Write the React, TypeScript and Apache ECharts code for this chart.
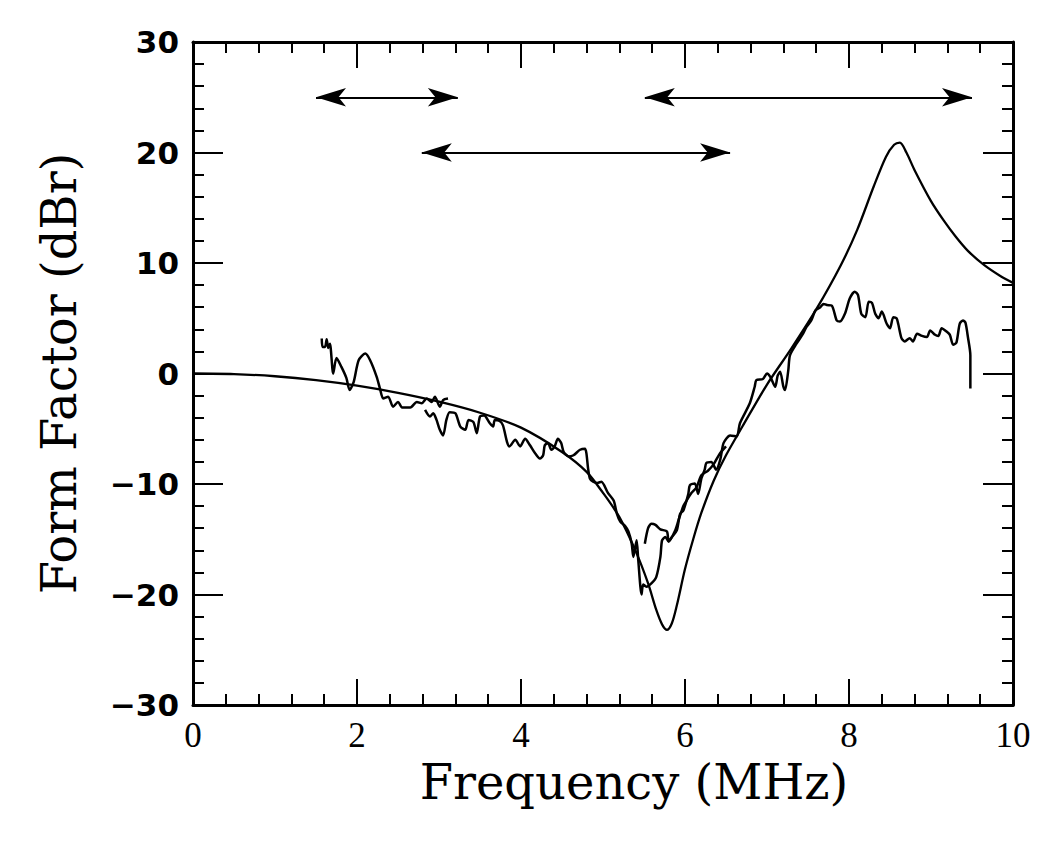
import React, { useEffect, useRef } from "react";
import * as echarts from "echarts";

// Frequency (MHz) / Form Factor (dBr)
const theoryCurve: [number, number][] = [
  [0, 0], [0.5, -0.05], [1, -0.25], [1.5, -0.6], [2, -1.1], [2.5, -1.75], [3, -2.55],
  [3.5, -3.55], [4, -4.9], [4.5, -7.1], [4.8, -8.9], [5.0, -10.8], [5.2, -13.0],
  [5.4, -16.1], [5.55, -19.0], [5.65, -21.4], [5.72, -22.7], [5.78, -23.2], [5.84, -22.6],
  [5.9, -21.0], [6.0, -17.7], [6.1, -15.0], [6.2, -12.6], [6.35, -9.7], [6.5, -7.4],
  [6.7, -4.8], [7.0, -1.0], [7.3, 2.3], [7.6, 5.8], [7.9, 9.8], [8.1, 13.0], [8.3, 16.9],
  [8.45, 19.6], [8.55, 20.7], [8.62, 20.9], [8.7, 20.0], [8.8, 18.4], [9.0, 15.6],
  [9.15, 13.9], [9.3, 12.4], [9.45, 11.1], [9.65, 9.8], [9.85, 8.8], [10, 8.2],
];

const segmentA: [number, number][] = [
  [1.57, 3.16], [1.58, 2.4], [1.61, 2.4], [1.63, 3.1], [1.65, 2.3], [1.67, 2.7], [1.71, 0.0],
  [1.75, 1.4], [1.81, 0.6], [1.87, -0.4], [1.91, -1.5], [1.96, -0.75], [2.02, 1.2],
  [2.1, 1.8], [2.16, 1.2], [2.24, -0.3], [2.28, -1.36], [2.32, -2.26], [2.38, -2.1],
  [2.44, -3.0], [2.5, -2.57], [2.55, -3.07], [2.65, -3.07], [2.73, -2.57], [2.79, -2.7],
  [2.85, -2.26], [2.91, -2.57], [2.95, -2.1], [3.01, -3.0], [3.05, -2.4], [3.11, -2.26],
];

const segmentB: [number, number][] = [
  [2.83, -3.3], [2.89, -3.9], [2.93, -3.6], [2.97, -4.2], [3.01, -5.1], [3.05, -5.6],
  [3.09, -4.2], [3.13, -3.5], [3.2, -3.6], [3.26, -4.8], [3.32, -5.1], [3.36, -4.2],
  [3.42, -4.4], [3.46, -5.4], [3.5, -3.9], [3.55, -3.8], [3.62, -4.5], [3.66, -4.8],
  [3.68, -4.2], [3.74, -4.3], [3.78, -4.7], [3.83, -6.2], [3.86, -6.6], [3.93, -6.0],
  [3.99, -6.6], [4.05, -5.9], [4.11, -6.5], [4.17, -7.2], [4.23, -7.7], [4.27, -7.4],
  [4.29, -6.5], [4.33, -6.3], [4.37, -6.9], [4.41, -6.6], [4.45, -5.9], [4.49, -6.3],
  [4.52, -7.1], [4.58, -7.5], [4.64, -7.4], [4.72, -6.9], [4.78, -6.8], [4.82, -8.7],
  [4.84, -9.5], [4.88, -9.8], [4.93, -9.9], [4.98, -9.8], [5.06, -10.8], [5.13, -11.5],
  [5.17, -12.7], [5.21, -13.4], [5.27, -13.8], [5.31, -14.3], [5.35, -15.4], [5.37, -16.6],
  [5.41, -15.1], [5.43, -16.9], [5.47, -20.0], [5.49, -19.1], [5.53, -19.3], [5.59, -19.0],
  [5.65, -18.4], [5.7, -16.6], [5.72, -15.1], [5.76, -14.8], [5.8, -15.2], [5.88, -14.2],
  [5.92, -13.3], [5.98, -12.0], [6.02, -11.5], [6.08, -10.8], [6.14, -10.3], [6.2, -9.2],
  [6.28, -8.8], [6.35, -8.2], [6.42, -7.3], [6.5, -6.6],
];

const segmentC: [number, number][] = [
  [5.51, -15.4], [5.55, -14.0], [5.59, -13.6], [5.64, -13.7], [5.7, -14.1], [5.78, -14.3],
  [5.8, -15.2], [5.84, -14.8], [5.9, -14.2], [5.94, -12.7], [5.98, -12.4], [6.04, -10.9],
  [6.06, -10.1], [6.12, -9.95], [6.16, -10.9], [6.2, -9.5], [6.24, -8.7], [6.26, -8.1],
  [6.32, -8.0], [6.38, -8.7], [6.43, -7.8], [6.47, -6.3], [6.55, -5.6], [6.63, -5.7],
  [6.67, -4.5], [6.79, -2.7], [6.85, -1.2], [6.87, -0.6], [6.95, -0.5], [7.0, 0.0],
  [7.04, -0.3], [7.1, -1.2], [7.13, -0.2], [7.16, 0.15], [7.2, -1.2], [7.22, -1.5],
  [7.26, 0.3], [7.28, 1.65], [7.36, 2.7], [7.44, 3.6], [7.48, 4.2], [7.54, 4.8],
  [7.59, 5.7], [7.65, 6.0], [7.69, 6.3], [7.73, 6.2], [7.79, 6.15], [7.85, 4.8],
  [7.89, 4.7], [7.95, 5.4], [8.01, 6.8], [8.07, 7.4], [8.11, 7.1], [8.15, 5.4],
  [8.2, 5.1], [8.24, 6.5], [8.28, 6.4], [8.32, 5.4], [8.36, 5.0], [8.4, 5.6],
  [8.46, 4.5], [8.5, 4.1], [8.54, 5.1], [8.58, 5.0], [8.6, 4.5], [8.64, 3.2],
  [8.68, 2.9], [8.74, 3.2], [8.78, 2.9], [8.83, 3.6], [8.89, 3.4], [8.95, 3.3],
  [8.99, 3.9], [9.05, 3.5], [9.09, 3.4], [9.13, 4.1], [9.19, 3.8], [9.23, 3.5],
  [9.27, 2.6], [9.31, 2.8], [9.35, 4.5], [9.39, 4.8], [9.42, 4.6], [9.45, 3.3],
  [9.48, 1.65], [9.48, -1.36],
];

// frequency ranges: [from, to, level]
const arrowRanges: [number, number, number][] = [
  [1.5, 3.23, 25],
  [5.51, 9.5, 25],
  [2.79, 6.55, 20],
];

const xTicks = { min: 0, max: 10, interval: 2 };
const yTicks = { min: -30, max: 30, interval: 10 };

export default function App() {
  const ref = useRef<HTMLDivElement>(null);
  useEffect(() => {
    if (!ref.current) return;
    const chart = echarts.init(ref.current, undefined, { renderer: "svg" });
    const axisLine = { show: true, onZero: false, lineStyle: { color: "#000", width: 3 } };
    const xBase = {
      type: "value" as const,
      ...xTicks,
      axisLine,
      axisTick: { show: true, inside: true, length: 26, lineStyle: { color: "#000", width: 2 } },
      minorTick: { show: true, splitNumber: 5, length: 11, lineStyle: { color: "#000", width: 2 } },
      splitLine: { show: false },
    };
    const yBase = {
      type: "value" as const,
      ...yTicks,
      axisLine,
      axisTick: { show: true, inside: true, length: 30, lineStyle: { color: "#000", width: 2 } },
      minorTick: { show: true, splitNumber: 5, length: 11, lineStyle: { color: "#000", width: 2 } },
      splitLine: { show: false },
    };
    const lineSeries = (data: [number, number][], extra: any = {}) => ({
      type: "line",
      data,
      showSymbol: false,
      symbol: "none",
      lineStyle: { color: "#000", width: 2.5 },
      silent: true,
      ...extra,
    });
    chart.setOption({
      animation: false,
      backgroundColor: "#fff",
      grid: { left: 193, right: 37, top: 42, bottom: 140 },
      xAxis: [
        {
          ...xBase,
          position: "bottom",
          name: "Frequency (MHz)",
          nameLocation: "middle",
          nameGap: 34,
          nameTextStyle: {
            fontFamily: "DejaVu Serif",
            fontSize: 48,
            color: "#000",
            verticalAlign: "top",
            padding: [0, 0, 0, 62],
          },
          axisLabel: {
            show: true,
            margin: 13,
            fontFamily: "Liberation Serif",
            fontSize: 35,
            color: "#000",
            formatter: (v: number) => String(v),
          },
        },
        { ...xBase, position: "top", axisLabel: { show: false } },
      ],
      yAxis: [
        {
          ...yBase,
          position: "left",
          name: "Form Factor (dBr)",
          nameLocation: "middle",
          nameGap: 110,
          nameTextStyle: { fontFamily: "DejaVu Serif", fontSize: 48, color: "#000" },
          axisLabel: {
            show: true,
            margin: 14,
            fontFamily: "DejaVu Sans",
            fontWeight: "bold",
            fontSize: 31,
            color: "#000",
            formatter: (v: number) => (v < 0 ? "\u2212" + Math.abs(v) : String(v)),
          },
        },
        { ...yBase, position: "right", axisLabel: { show: false } },
      ],
      series: [
        lineSeries(theoryCurve, {
          smooth: 0.3,
          lineStyle: { color: "#000", width: 2.3 },
          markLine: {
            silent: true,
            symbol: ["arrow", "arrow"],
            symbolSize: [14, 30],
            label: { show: false },
            lineStyle: { color: "#000", width: 2, type: "solid" },
            data: arrowRanges.map(([a, b, y]) => [{ coord: [a, y] }, { coord: [b, y] }]),
          },
        }),
        lineSeries(segmentA, { smooth: 0.25 }),
        lineSeries(segmentB, { smooth: 0.25 }),
        lineSeries(segmentC, { smooth: 0.25 }),
      ],
    });
    return () => chart.dispose();
  }, []);
  return (
    <div
      ref={ref}
      style={{ position: "fixed", left: 0, top: 0, width: 1050, height: 845, background: "#fff" }}
    />
  );
}
